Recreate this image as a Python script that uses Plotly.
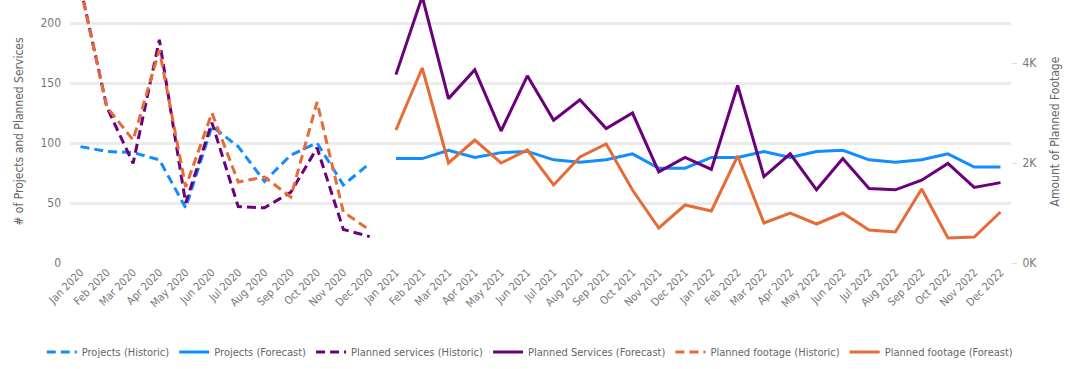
import plotly.graph_objects as go

months = ["Jan", "Feb", "Mar", "Apr", "May", "Jun", "Jul", "Aug", "Sep", "Oct", "Nov", "Dec"]
categories = [f"{m} {y}" for y in (2020, 2021, 2022) for m in months]
hist_cats = categories[:12]
fc_cats = categories[12:]

projects_hist = [97, 93, 92, 86, 46, 114, 97, 68, 90, 100, 65, 83]
services_hist = [230, 130, 83, 186, 50, 117, 47, 46, 59, 96, 28, 22]
footage_hist = [5500, 3120, 2460, 4260, 1520, 3000, 1620, 1720, 1320, 3220, 1020, 660]

projects_fc = [87, 87, 94, 88, 92, 93, 86, 84, 86, 91, 79, 79,
               88, 88, 93, 88, 93, 94, 86, 84, 86, 91, 80, 80]
services_fc = [157, 222, 137, 161, 110, 156, 119, 136, 112, 125, 76, 88,
               78, 148, 72, 91, 61, 87, 62, 61, 69, 83, 63, 67]
footage_fc = [2660, 3900, 2000, 2460, 2000, 2260, 1560, 2120, 2380, 1460, 700, 1160,
              1040, 2140, 800, 1000, 780, 1000, 660, 620, 1480, 500, 520, 1020]

BLUE = "#118DFF"
PURPLE = "#6B007B"
ORANGE = "#E66C37"
DASH = "9px,5px"
LW = 3

fig = go.Figure()
fig.add_trace(go.Scatter(x=hist_cats, y=projects_hist, name="Projects (Historic)", mode="lines",
                         line=dict(color=BLUE, width=LW, dash=DASH)))
fig.add_trace(go.Scatter(x=fc_cats, y=projects_fc, name="Projects (Forecast)", mode="lines",
                         line=dict(color=BLUE, width=LW)))
fig.add_trace(go.Scatter(x=hist_cats, y=services_hist, name="Planned services (Historic)", mode="lines",
                         line=dict(color=PURPLE, width=LW, dash=DASH)))
fig.add_trace(go.Scatter(x=fc_cats, y=services_fc, name="Planned Services (Forecast)", mode="lines",
                         line=dict(color=PURPLE, width=LW)))
fig.add_trace(go.Scatter(x=hist_cats, y=footage_hist, name="Planned footage (Historic)", mode="lines",
                         yaxis="y2", line=dict(color=ORANGE, width=LW, dash=DASH)))
fig.add_trace(go.Scatter(x=fc_cats, y=footage_fc, name="Planned footage (Foreast)", mode="lines",
                         yaxis="y2", line=dict(color=ORANGE, width=LW)))

FONT = "DejaVu Sans Condensed, Liberation Sans Narrow, Arial, sans-serif"
GRAY = "#777777"

fig.update_layout(
    width=1070, height=369,
    margin=dict(l=70, r=59, t=0, b=106),
    paper_bgcolor="white", plot_bgcolor="white",
    font=dict(family=FONT, color=GRAY, size=12),
    showlegend=True,
    legend=dict(orientation="h", x=-0.03, xanchor="left", y=-0.338, yanchor="middle",
                font=dict(size=11, color="#666666"), itemwidth=30, tracegroupgap=0,
                bgcolor="rgba(0,0,0,0)"),
    xaxis=dict(type="category", categoryorder="array", categoryarray=categories,
               range=[-0.4, 35.4], tickangle=-45, showgrid=False, zeroline=False,
               showline=False, ticks="", automargin=False,
               tickfont=dict(size=11, color=GRAY)),
    yaxis=dict(range=[0, 219.2], tickvals=[0, 50, 100, 150, 200], showgrid=True,
               gridcolor="#EBEBEB", gridwidth=3, zeroline=False, showline=False,
               automargin=False, ticklabelstandoff=8, tickfont=dict(size=12, color=GRAY),
               title=dict(text="# of Projects and Planned Services", standoff=14,
                          font=dict(size=12, color="#666666"))),
    yaxis2=dict(overlaying="y", side="right", range=[0, 5260],
                tickvals=[0, 2000, 4000], ticktext=["0K", "2K", "4K"],
                showgrid=False, zeroline=False, showline=False, automargin=False,
                ticks="outside", ticklen=5, tickcolor="#E0E0E0", ticklabelstandoff=3,
                tickfont=dict(size=12, color=GRAY),
                title=dict(text="Amount of Planned Footage", standoff=14,
                           font=dict(size=12, color="#666666"))),
)

fig.write_html("out.html")
